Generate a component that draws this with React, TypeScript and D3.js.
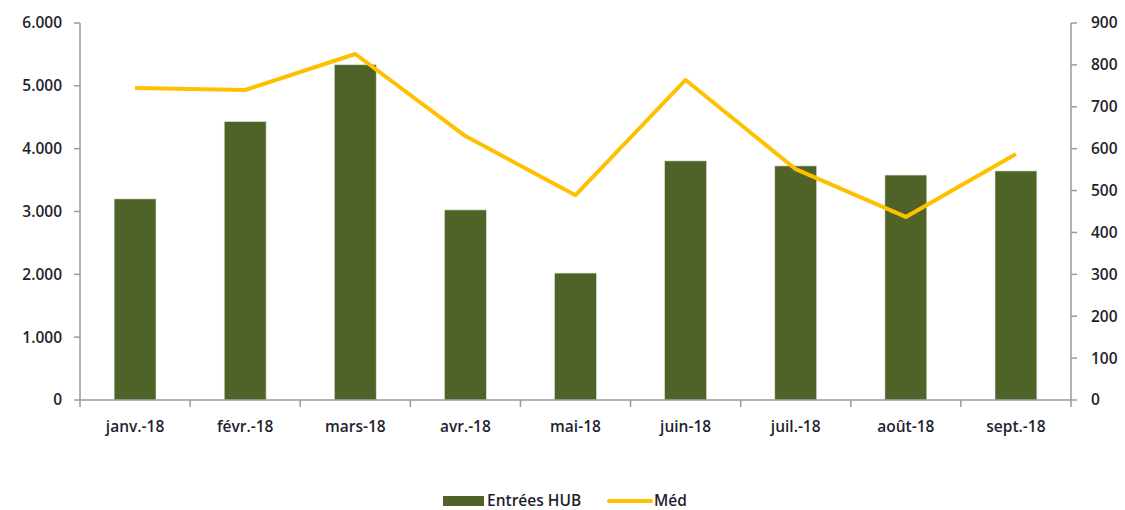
import React from "react";
import * as d3 from "d3";

const categories = ["janv.-18", "févr.-18", "mars-18", "avr.-18", "mai-18", "juin-18", "juil.-18", "août-18", "sept.-18"];
const entreesHub = [3200, 4430, 5335, 3025, 2020, 3805, 3725, 3580, 3645];
const med = [745, 740, 826, 630, 489, 764, 551, 437, 587];
const leftTicks = [0, 1000, 2000, 3000, 4000, 5000, 6000];
const rightTicks = [0, 100, 200, 300, 400, 500, 600, 700, 800, 900];
const seriesNames = ["Entrées HUB", "Méd"];

const fmtLeft = (v: number) => (v === 0 ? "0" : d3.format(",")(v).replace(/,/g, "."));

export default function App() {
  const W = 1125, H = 510;
  const left = 80, right = 1071, top = 23, bottom = 400;
  const x = d3.scaleBand<string>().domain(categories).range([left, right]).paddingInner(0.62).paddingOuter(0.31);
  const xb = d3.scaleBand<string>().domain(categories).range([left, right]);
  const yL = d3.scaleLinear().domain([0, 6000]).range([bottom, top]);
  const yR = d3.scaleLinear().domain([0, 900]).range([bottom, top]);
  const line = d3.line<number>().x((_, i) => (xb(categories[i]) as number) + xb.bandwidth() / 2).y((d) => yR(d));
  const axisColor = "#9a9a9a";
  const font = "'Open Sans', 'Liberation Sans', sans-serif";
  const textColor = "#1f1f2f";
  const fs = 15.5;
  return (
    <svg width={W} height={H} style={{ position: "absolute", left: 0, top: 0 }} fontFamily={font}>
      {categories.map((c, i) => (
        <rect key={c} x={x(c)} y={yL(entreesHub[i])} width={x.bandwidth()} height={bottom - yL(entreesHub[i])} fill="#4F6228" stroke="#d8dccf" strokeWidth={0.6} />
      ))}
      <path d={line(med) || ""} fill="none" stroke="#FFC000" strokeWidth={4} strokeLinejoin="round" />
      {/* left axis */}
      <line x1={left} x2={left} y1={top} y2={bottom} stroke={axisColor} strokeWidth={1.5} />
      {leftTicks.map((t) => (
        <g key={t}>
          <line x1={left - 6} x2={left} y1={yL(t)} y2={yL(t)} stroke={axisColor} strokeWidth={1.5} />
          <text x={62} y={yL(t)} dy="0.35em" textAnchor="end" fontSize={fs} fontWeight={600} fill={textColor}>{fmtLeft(t)}</text>
        </g>
      ))}
      {/* right axis */}
      <line x1={right} x2={right} y1={top} y2={bottom} stroke={axisColor} strokeWidth={1.5} />
      {rightTicks.map((t) => (
        <g key={t}>
          <line x1={right} x2={right + 6} y1={yR(t)} y2={yR(t)} stroke={axisColor} strokeWidth={1.5} />
          <text x={1091} y={yR(t)} dy="0.35em" textAnchor="start" fontSize={fs} fontWeight={600} fill={textColor}>{t}</text>
        </g>
      ))}
      {/* bottom axis */}
      <line x1={left} x2={right} y1={bottom} y2={bottom} stroke={axisColor} strokeWidth={1.5} />
      {categories.map((c) => (
        <line key={"t" + c} x1={xb(c)} x2={xb(c)} y1={bottom} y2={bottom + 7} stroke={axisColor} strokeWidth={1.5} />
      ))}
      <line x1={right} x2={right} y1={bottom} y2={bottom + 7} stroke={axisColor} strokeWidth={1.5} />
      {categories.map((c) => (
        <text key={"l" + c} x={(xb(c) as number) + xb.bandwidth() / 2} y={427} dy="0.35em" textAnchor="middle" fontSize={fs} fontWeight={600} fill={textColor}>{c}</text>
      ))}
      {/* legend */}
      <rect x={443} y={496} width={41} height={10} fill="#4F6228" />
      <text x={487} y={501} dy="0.35em" fontSize={fs} fontWeight={600} fill={textColor}>{seriesNames[0]}</text>
      <line x1={609} x2={651} y1={501} y2={501} stroke="#FFC000" strokeWidth={4} strokeLinecap="round" />
      <text x={654} y={501} dy="0.35em" fontSize={fs} fontWeight={600} fill={textColor}>{seriesNames[1]}</text>
    </svg>
  );
}
